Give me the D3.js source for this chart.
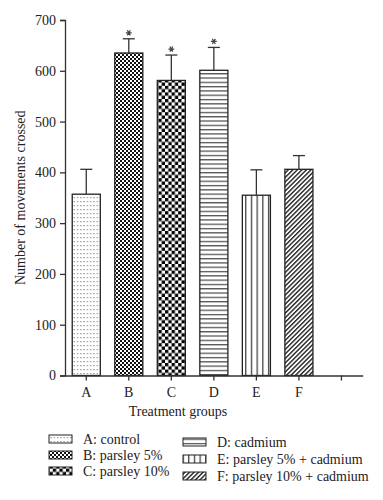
<!DOCTYPE html>
<html><head><meta charset="utf-8">
<script src="https://cdn.jsdelivr.net/npm/d3@7/dist/d3.min.js"></script>
<style>body{margin:0;background:#fff}svg{display:block}text{font-family:"Liberation Serif","DejaVu Serif",serif;fill:#222}</style>
</head><body><div id="c"></div>
<script>
const categories = ["A","B","C","D","E","F",""];
const groups = ["A","B","C","D","E","F"];
const means = [357, 635, 581, 601, 355, 406];
const errors = [49, 28, 50, 45, 50, 27];
const significant = [false, true, true, true, false, false];
const legendLabels = ["A: control","B: parsley 5%","C: parsley 10%","D: cadmium","E: parsley 5% + cadmium","F: parsley 10% + cadmium"];
const yTicks = [0,100,200,300,400,500,600,700];

const W = 383, H = 500;
const svg = d3.select("#c").append("svg").attr("width", W).attr("height", H);
const defs = svg.append("defs");

function pat(id, w, h, draw){
  const p = defs.append("pattern").attr("id", id).attr("patternUnits","userSpaceOnUse").attr("width", w).attr("height", h);
  p.append("rect").attr("width", w).attr("height", h).attr("fill","#fff");
  draw(p);
}
pat("pA", 3.3, 4, p => p.append("rect").attr("x",1).attr("y",1).attr("width",1.2).attr("height",1.2).attr("fill","#888"));
pat("pB", 4, 4, p => { p.append("rect").attr("width",2).attr("height",2).attr("fill","#111"); p.append("rect").attr("x",2).attr("y",2).attr("width",2).attr("height",2).attr("fill","#111"); });
pat("pC", 6.6, 6.6, p => { p.append("rect").attr("width",3.3).attr("height",3.3).attr("fill","#000"); p.append("rect").attr("x",3.3).attr("y",3.3).attr("width",3.3).attr("height",3.3).attr("fill","#000"); });
pat("pD", 4, 4.3, p => p.append("rect").attr("y",0).attr("width",4).attr("height",1.3).attr("fill","#555"));
pat("pE", 5.7, 4, p => p.append("rect").attr("x",0).attr("width",1.3).attr("height",4).attr("fill","#444"));
pat("pF", 3.2, 3.2, p => { p.attr("patternTransform","rotate(45)"); p.append("rect").attr("width",1.4).attr("height",3.2).attr("fill","#222"); });
const fills = ["url(#pA)","url(#pB)","url(#pC)","url(#pD)","url(#pE)","url(#pF)"];

const x0 = 65, x1 = 362.7, y0 = 375.5, yTop = 20;
const x = d3.scaleBand().domain(categories).range([x0, x1]).paddingInner(0.34).paddingOuter(0.17);
const y = d3.scaleLinear().domain([0, 700]).range([y0, yTop]);
const star = d3.symbol().type(d3.symbolAsterisk).size(24);

const g = svg.append("g");
groups.forEach((c, i) => {
  const bx = x(c), bw = x.bandwidth();
  g.append("rect").attr("x", bx).attr("y", y(means[i])).attr("width", bw).attr("height", y(0) - y(means[i]))
    .attr("fill", fills[i]).attr("stroke", "#222").attr("stroke-width", 1.3);
  const cx = bx + bw / 2;
  const top = y(means[i] + errors[i]);
  g.append("line").attr("x1", cx).attr("x2", cx).attr("y1", y(means[i])).attr("y2", top).attr("stroke","#333").attr("stroke-width",1.3);
  g.append("line").attr("x1", cx - 6).attr("x2", cx + 6).attr("y1", top).attr("y2", top).attr("stroke","#333").attr("stroke-width",1.3);
  if (significant[i]) {
    g.append("path").attr("d", star()).attr("transform", `translate(${cx},${top - 6}) rotate(90)`)
      .attr("fill","none").attr("stroke","#444").attr("stroke-width",1.2);
  }
});

const ya = svg.append("g").attr("transform", `translate(${x0},0)`)
  .call(d3.axisLeft(y).tickValues(yTicks).tickSize(5).tickPadding(4).tickFormat(d3.format("d")));
ya.selectAll("text").attr("font-size", 14).style("font-family", '"Liberation Serif",serif').attr("fill","#222");
ya.selectAll("line,path").attr("stroke","#333").attr("stroke-width",1.3);

const xa = svg.append("g").attr("transform", `translate(0,${y0})`)
  .call(d3.axisBottom(x).tickSize(5).tickPadding(7).tickSizeOuter(0));
xa.selectAll("text").attr("font-size", 14).style("font-family", '"Liberation Serif",serif').attr("fill","#222");
xa.selectAll("line,path").attr("stroke","#333").attr("stroke-width",1.3);

svg.append("text").attr("transform", `translate(25,${(y0 + yTop) / 2}) rotate(-90)`).attr("text-anchor","middle").attr("font-size", 14).text("Number of movements crossed");
svg.append("text").attr("x", 178).attr("y", 416).attr("text-anchor","middle").attr("font-size", 14).text("Treatment groups");

const legPos = [[49,440],[49,456],[49,472],[183,443],[183,460],[183,477]];
legendLabels.forEach((t, i) => {
  const [lx, ly] = legPos[i];
  svg.append("rect").attr("x", lx).attr("y", ly - 5).attr("width", 23).attr("height", 8)
    .attr("fill", fills[i]).attr("stroke","#222").attr("stroke-width",1);
  svg.append("text").attr("x", lx + 34).attr("y", ly + 4).attr("font-size", 14).text(t);
});
</script></body></html>
